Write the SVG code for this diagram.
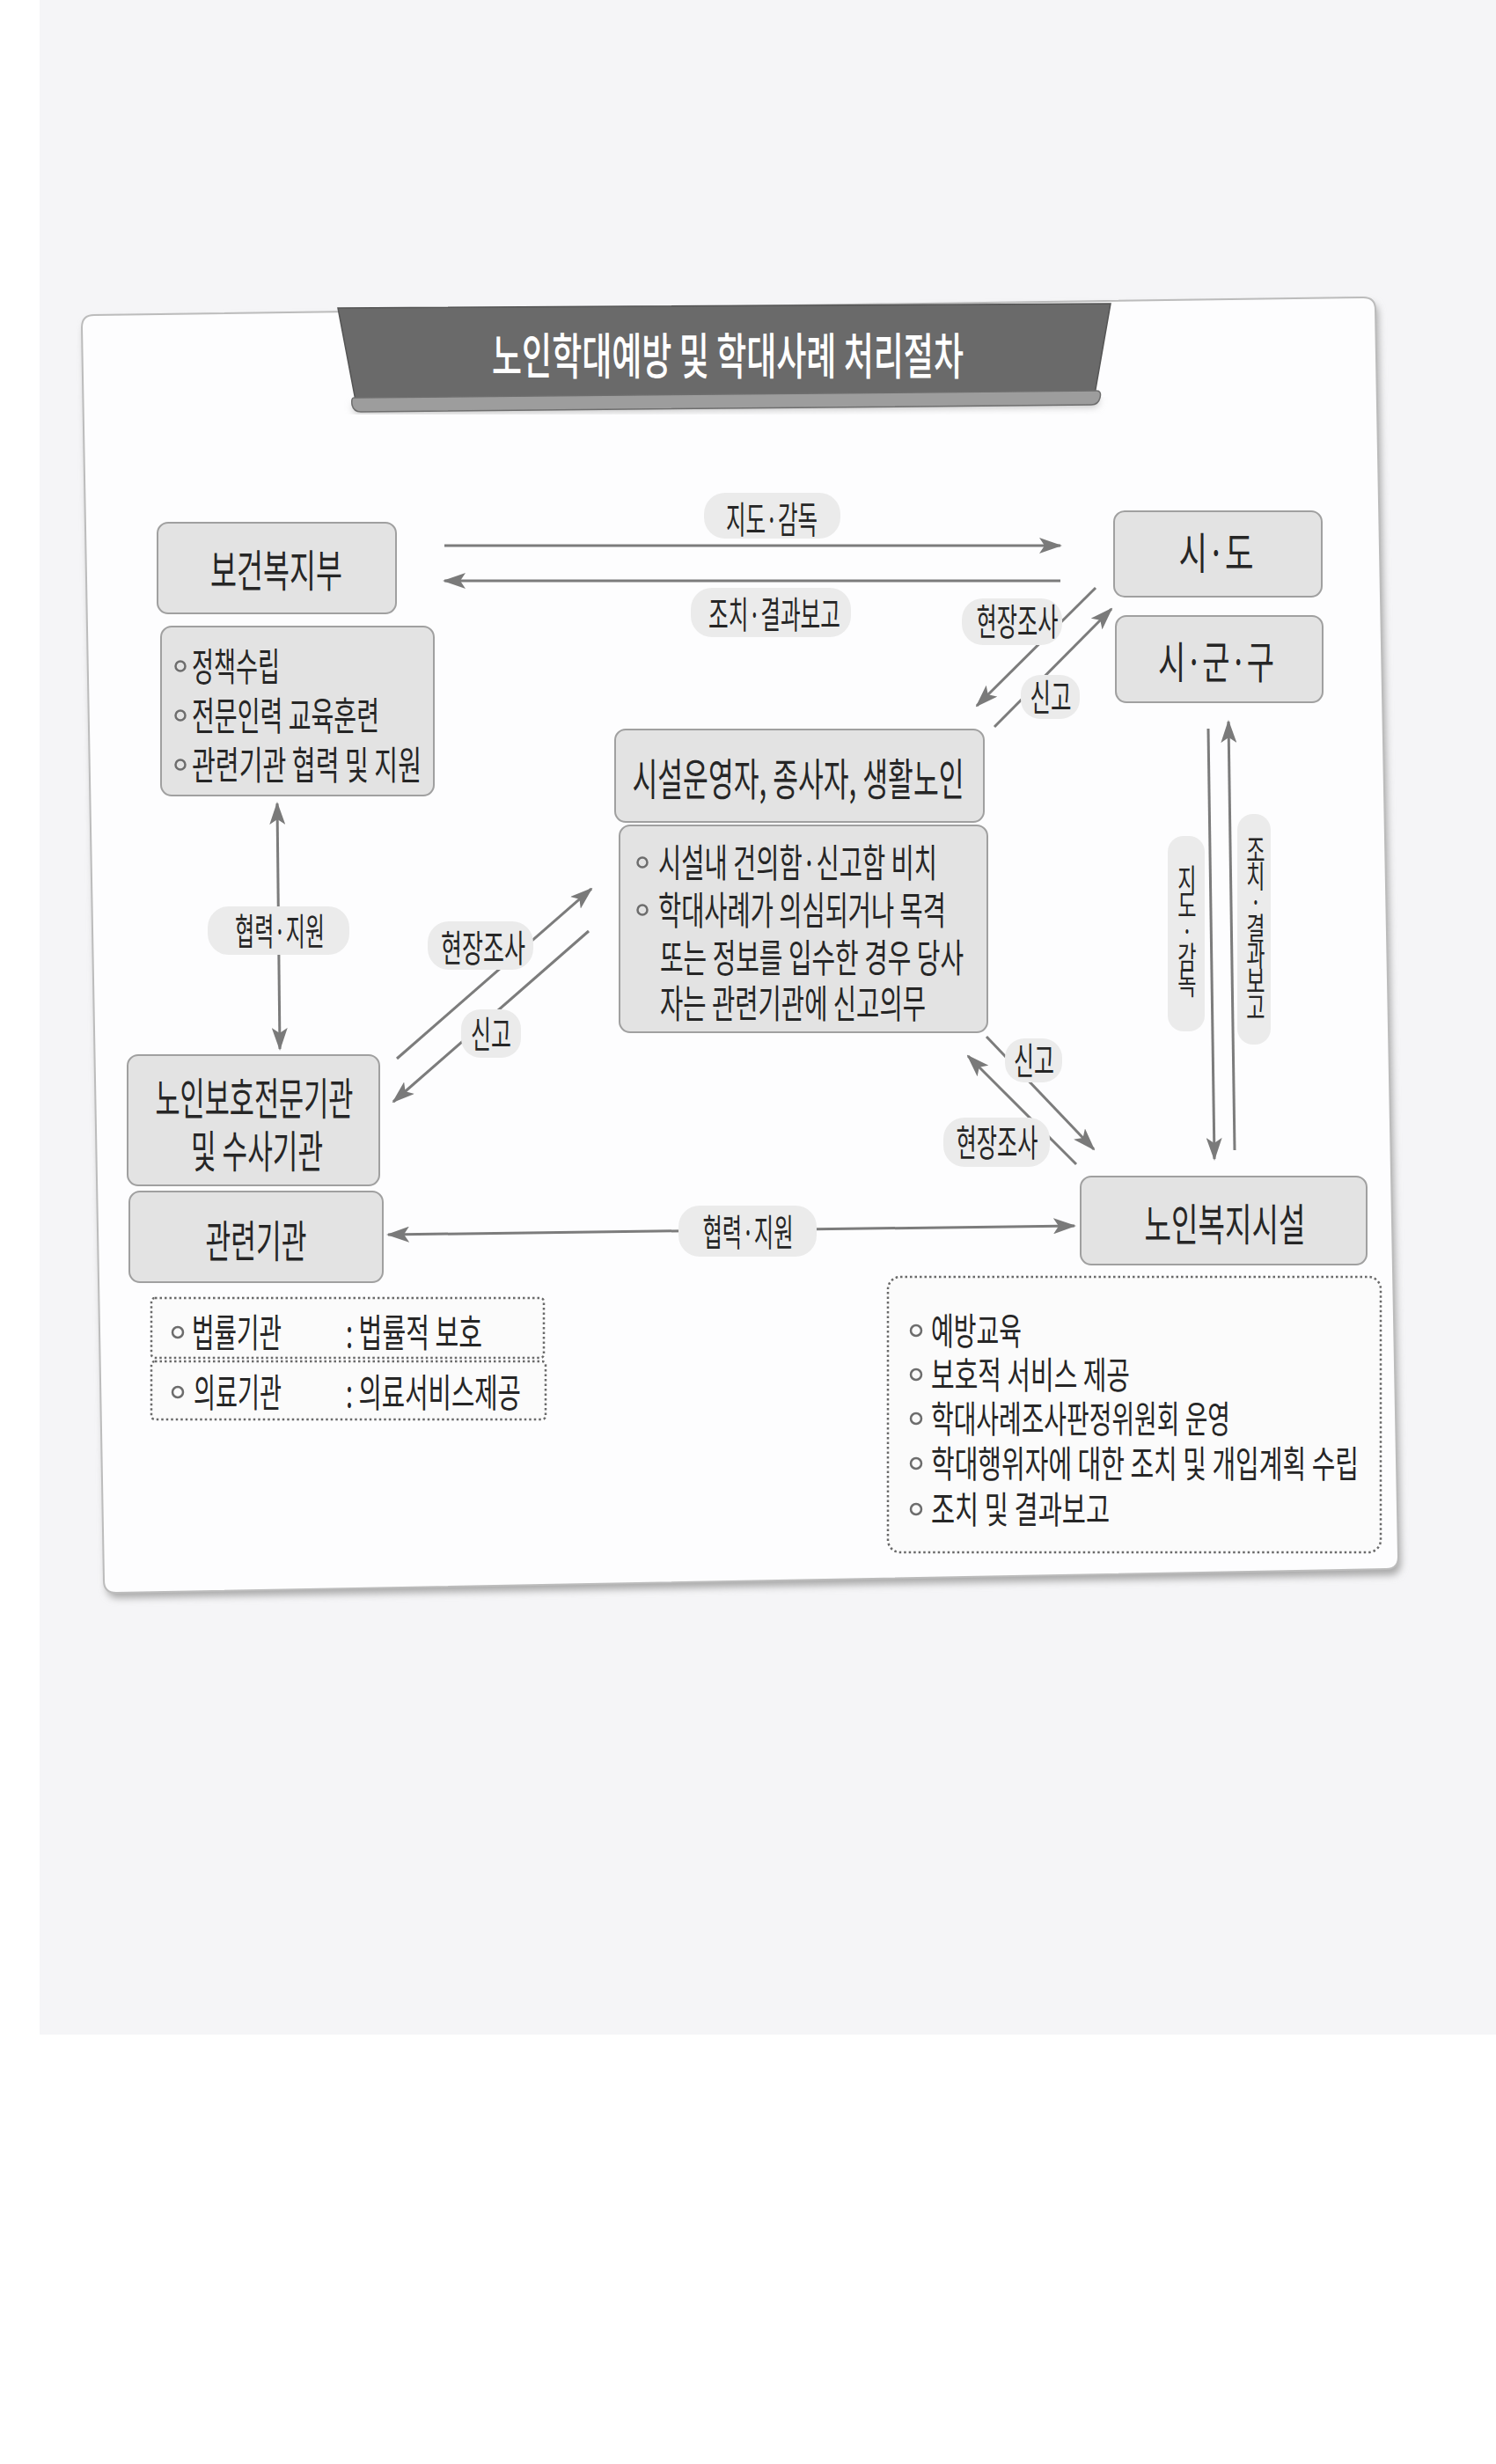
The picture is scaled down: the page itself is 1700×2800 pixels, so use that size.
<svg xmlns="http://www.w3.org/2000/svg" width="1700" height="2800" viewBox="0 0 1700 2800">
<defs>
<style>
.t{font-family:"Noto Sans CJK KR","Noto Sans CJK SC",sans-serif;fill:#262626}
.big{font-size:50px;text-anchor:middle}
.bul{font-size:44px}
.bul3{font-size:42px}
.lab{font-size:42px;text-anchor:middle}
.vlab{font-size:35px;text-anchor:middle;writing-mode:vertical-rl;text-orientation:upright}
.box{fill:#e3e3e3;stroke:#a0a0a0;stroke-width:2}
.dbox{fill:#fbfbfb;stroke:#6a6a6a;stroke-width:2.5;stroke-dasharray:2.5 3}
.bc{fill:none;stroke:#6d6d6d;stroke-width:2.5}
.lbg{fill:#ebebeb}
.conn{stroke:#7c7c7c;stroke-width:3;fill:none}
</style>
<marker id="ah" markerUnits="userSpaceOnUse" markerWidth="26" markerHeight="18" refX="24" refY="9" orient="auto-start-reverse" viewBox="0 0 26 18">
<path d="M0,0 L26,9 L0,18 L6,9 Z" fill="#7a7a7a"/>
</marker>
<filter id="blur" x="-5%" y="-5%" width="110%" height="110%"><feGaussianBlur stdDeviation="4"/></filter>
</defs>
<rect x="0" y="0" width="1700" height="2800" fill="#ffffff"/>
<rect x="45" y="0" width="1655" height="2312" fill="#f5f5f7"/>

<g id="frame">
<path d="M110,364 L1552,344 Q1566,344 1566,358 L1592,1776 Q1592,1790 1578,1790 L135,1816 Q121,1816 121,1802 L96,378 Q96,364 110,364 Z" fill="#a9a9a9" filter="url(#blur)"/>
<path d="M107,358 L1549,338 Q1563,338 1563,352 L1589,1769 Q1589,1783 1575,1783 L132,1810 Q118,1810 118,1796 L93,372 Q93,358 107,358 Z" fill="#fdfdfe" stroke="#bcbcbc" stroke-width="2"/>
</g>

<g id="title">
<path d="M404,470 L1246,462 L1250,452 L400,460 Z" fill="#bdbdbd" filter="url(#blur)"/>
<path d="M384,350 L1262,345 L1244,448 Q1242,456 1234,456 L414,463 Q406,463 404,455 Z" fill="#6a6a6a" stroke="#555" stroke-width="1.5"/>
<path d="M402,452 L1246,444 Q1252,444 1250,452 Q1248,460 1240,460 L410,468 Q402,468 400,460 Q399,452 402,452 Z" fill="#9d9d9d" stroke="#6e6e6e" stroke-width="1.5"/>
<text class="t" x="827" y="425" font-size="56" font-weight="500" text-anchor="middle" textLength="536" lengthAdjust="spacingAndGlyphs" style="fill:#ffffff">노인학대예방 및 학대사례 처리절차</text>
</g>

<g id="connectors">
<line class="conn" x1="505" y1="620" x2="1205" y2="620" marker-end="url(#ah)"/>
<line class="conn" x1="1205" y1="660" x2="505" y2="660" marker-end="url(#ah)"/>
<line class="conn" x1="1245" y1="668" x2="1110" y2="802" marker-end="url(#ah)"/>
<line class="conn" x1="1130" y1="826" x2="1263" y2="692" marker-end="url(#ah)"/>
<line class="conn" x1="315" y1="913" x2="318" y2="1192" marker-start="url(#ah)" marker-end="url(#ah)"/>
<line class="conn" x1="451" y1="1203" x2="672" y2="1010" marker-end="url(#ah)"/>
<line class="conn" x1="669" y1="1058" x2="447" y2="1252" marker-end="url(#ah)"/>
<line class="conn" x1="441" y1="1403" x2="1221" y2="1393" marker-start="url(#ah)" marker-end="url(#ah)"/>
<line class="conn" x1="1373" y1="828" x2="1380" y2="1317" marker-end="url(#ah)"/>
<line class="conn" x1="1403" y1="1307" x2="1396" y2="820" marker-end="url(#ah)"/>
<line class="conn" x1="1121" y1="1178" x2="1243" y2="1306" marker-end="url(#ah)"/>
<line class="conn" x1="1223" y1="1323" x2="1100" y2="1200" marker-end="url(#ah)"/>
</g>

<g id="labels">
<rect class="lbg" x="800" y="560" width="155" height="52" rx="24"/>
<text class="t lab" x="877" y="606" textLength="104" lengthAdjust="spacingAndGlyphs">지도·감독</text>
<rect class="lbg" x="785" y="668" width="182" height="56" rx="24"/>
<text class="t lab" x="880" y="714" textLength="150" lengthAdjust="spacingAndGlyphs">조치·결과보고</text>
<rect class="lbg" x="1093" y="680" width="114" height="53" rx="24"/>
<text class="t lab" x="1156" y="722" textLength="93" lengthAdjust="spacingAndGlyphs">현장조사</text>
<rect class="lbg" x="1160" y="767" width="67" height="50" rx="22"/>
<text class="t lab" x="1194" y="808" textLength="47" lengthAdjust="spacingAndGlyphs">신고</text>
<rect class="lbg" x="236" y="1030" width="161" height="55" rx="24"/>
<text class="t lab" x="318" y="1074" textLength="102" lengthAdjust="spacingAndGlyphs">협력·지원</text>
<rect class="lbg" x="486" y="1047" width="120" height="55" rx="24"/>
<text class="t lab" x="549" y="1093" textLength="96" lengthAdjust="spacingAndGlyphs">현장조사</text>
<rect class="lbg" x="524" y="1147" width="68" height="55" rx="22"/>
<text class="t lab" x="558" y="1191" textLength="46" lengthAdjust="spacingAndGlyphs">신고</text>
<rect class="lbg" x="1142" y="1180" width="65" height="50" rx="22"/>
<text class="t lab" x="1175" y="1221" textLength="46" lengthAdjust="spacingAndGlyphs">신고</text>
<rect class="lbg" x="1072" y="1270" width="121" height="56" rx="24"/>
<text class="t lab" x="1133" y="1314" textLength="93" lengthAdjust="spacingAndGlyphs">현장조사</text>
<rect class="lbg" x="771" y="1370" width="157" height="58" rx="24"/>
<text class="t lab" x="850" y="1416" textLength="103" lengthAdjust="spacingAndGlyphs">협력·지원</text>
<rect class="lbg" x="1327" y="950" width="42" height="222" rx="18"/>
<text class="t vlab" x="1349" y="1058" textLength="152" lengthAdjust="spacing" transform="matrix(0.66 0 0 1 458.66 0)">지도·감독</text>
<rect class="lbg" x="1406" y="925" width="38" height="262" rx="18"/>
<text class="t vlab" x="1427" y="1055" textLength="214" lengthAdjust="spacing" transform="matrix(0.66 0 0 1 485.18 0)">조치·결과보고</text>
</g>

<g id="node-mohw">
<rect class="box" x="179" y="594" width="271" height="103" rx="12"/>
<text class="t big" x="314" y="667" textLength="150" lengthAdjust="spacingAndGlyphs">보건복지부</text>
</g>
<g id="node-mohw-roles">
<rect class="box" x="183" y="712" width="310" height="192" rx="12"/>
<circle class="bc" cx="205" cy="757" r="5.5"/>
<text class="t bul" x="218" y="774" textLength="100" lengthAdjust="spacingAndGlyphs">정책수립</text>
<circle class="bc" cx="205" cy="813" r="5.5"/>
<text class="t bul" x="218" y="830" textLength="213" lengthAdjust="spacingAndGlyphs">전문인력 교육훈련</text>
<circle class="bc" cx="205" cy="869" r="5.5"/>
<text class="t bul" x="218" y="886" textLength="261" lengthAdjust="spacingAndGlyphs">관련기관 협력 및 지원</text>
</g>
<g id="node-sido">
<rect class="box" x="1266" y="581" width="236" height="97" rx="12"/>
<text class="t big" x="1382" y="647" textLength="85" lengthAdjust="spacingAndGlyphs">시·도</text>
</g>
<g id="node-sigungu">
<rect class="box" x="1268" y="700" width="235" height="98" rx="12"/>
<text class="t big" x="1382" y="771" textLength="132" lengthAdjust="spacingAndGlyphs">시·군·구</text>
</g>
<g id="node-facility-people">
<rect class="box" x="699" y="829" width="419" height="105" rx="12"/>
<text class="t big" x="907" y="904" textLength="377" lengthAdjust="spacingAndGlyphs">시설운영자, 종사자, 생활노인</text>
</g>
<g id="node-facility-people-duties">
<rect class="box" x="704" y="938" width="418" height="235" rx="12"/>
<circle class="bc" cx="730" cy="980" r="5.5"/>
<text class="t bul" x="748" y="997" textLength="317" lengthAdjust="spacingAndGlyphs">시설내 건의함·신고함 비치</text>
<circle class="bc" cx="730" cy="1034" r="5.5"/>
<text class="t bul" x="748" y="1051" textLength="327" lengthAdjust="spacingAndGlyphs">학대사례가 의심되거나 목격</text>
<text class="t bul" x="750" y="1105" textLength="345" lengthAdjust="spacingAndGlyphs">또는 정보를 입수한 경우 당사</text>
<text class="t bul" x="750" y="1157" textLength="302" lengthAdjust="spacingAndGlyphs">자는 관련기관에 신고의무</text>
</g>
<g id="node-protection-agency">
<rect class="box" x="145" y="1199" width="286" height="148" rx="12"/>
<text class="t big" x="289" y="1267" textLength="225" lengthAdjust="spacingAndGlyphs">노인보호전문기관</text>
<text class="t big" x="292" y="1327" textLength="150" lengthAdjust="spacingAndGlyphs">및 수사기관</text>
</g>
<g id="node-related">
<rect class="box" x="147" y="1354" width="288" height="103" rx="12"/>
<text class="t big" x="291" y="1429" textLength="115" lengthAdjust="spacingAndGlyphs">관련기관</text>
</g>
<g id="node-legal">
<rect class="dbox" x="172" y="1475" width="446" height="68" rx="4"/>
<circle class="bc" cx="202" cy="1514" r="6"/>
<text class="t bul" x="218" y="1531" textLength="102" lengthAdjust="spacingAndGlyphs">법률기관</text>
<text class="t bul" x="393" y="1531" textLength="155" lengthAdjust="spacingAndGlyphs">: 법률적 보호</text>
</g>
<g id="node-medical">
<rect class="dbox" x="172" y="1547" width="448" height="66" rx="4"/>
<circle class="bc" cx="202" cy="1582" r="6"/>
<text class="t bul" x="220" y="1599" textLength="100" lengthAdjust="spacingAndGlyphs">의료기관</text>
<text class="t bul" x="393" y="1599" textLength="199" lengthAdjust="spacingAndGlyphs">: 의료서비스제공</text>
</g>
<g id="node-welfare-facility">
<rect class="box" x="1228" y="1337" width="325" height="100" rx="12"/>
<text class="t big" x="1392" y="1410" textLength="183" lengthAdjust="spacingAndGlyphs">노인복지시설</text>
</g>
<g id="node-welfare-facility-roles">
<rect class="dbox" x="1009" y="1451" width="560" height="313" rx="14"/>
<circle class="bc" cx="1041" cy="1512" r="6"/>
<text class="t bul3" x="1058" y="1528" textLength="103" lengthAdjust="spacingAndGlyphs">예방교육</text>
<circle class="bc" cx="1041" cy="1562" r="6"/>
<text class="t bul3" x="1058" y="1578" textLength="226" lengthAdjust="spacingAndGlyphs">보호적 서비스 제공</text>
<circle class="bc" cx="1041" cy="1612" r="6"/>
<text class="t bul3" x="1058" y="1628" textLength="340" lengthAdjust="spacingAndGlyphs">학대사례조사판정위원회 운영</text>
<circle class="bc" cx="1041" cy="1663" r="6"/>
<text class="t bul3" x="1058" y="1679" textLength="486" lengthAdjust="spacingAndGlyphs">학대행위자에 대한 조치 및 개입계획 수립</text>
<circle class="bc" cx="1041" cy="1715" r="6"/>
<text class="t bul3" x="1058" y="1731" textLength="203" lengthAdjust="spacingAndGlyphs">조치 및 결과보고</text>
</g>
</svg>
